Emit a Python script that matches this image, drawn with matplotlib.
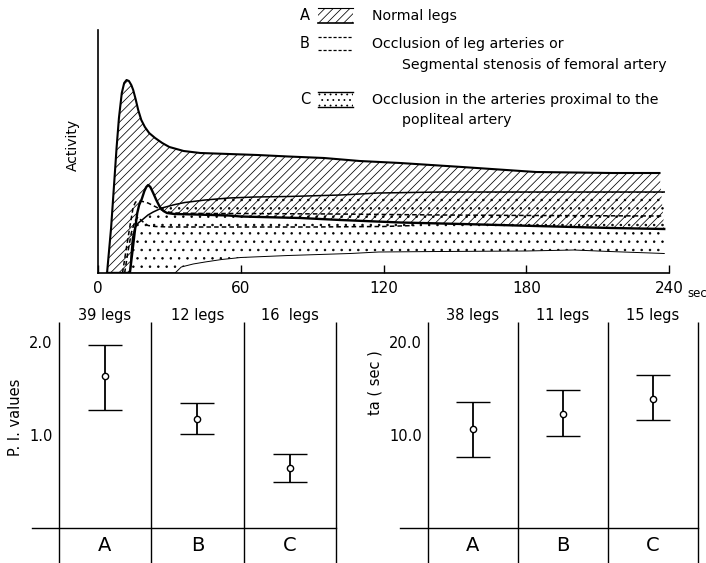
import numpy as np
import matplotlib
matplotlib.use("Agg")
import matplotlib.pyplot as plt
from matplotlib.patches import Rectangle

plt.rcParams['font.family'] = ['DejaVu Sans']
plt.rcParams['hatch.linewidth'] = 0.55

# ---------------- data: activity curves (time in sec, activity arbitrary units) ----------------
a_upper_t = [3.8, 5.5, 6.8, 7.8, 8.8, 10, 11, 12, 13, 14, 14.8, 15.8, 16.9, 18.2, 19.7, 21.5, 24, 27, 30,
             36, 43, 55, 67, 80, 95, 110, 127, 153, 184, 216, 236]
a_upper_v = [0, 45, 90, 125, 155, 180, 190, 193, 192, 188, 183, 174, 163, 153, 146, 140, 135, 130, 126,
             122, 120, 119, 118, 116.5, 115, 112, 110, 106, 101, 100, 100]

a_lower_t = [3.8, 13.4, 14.5, 15.5, 16.5, 17.3, 18.4, 19.5, 20.3, 21.1, 22, 23.2, 24.5, 26, 27.5, 29, 32,
             41, 55, 60, 85, 102, 127, 153, 184, 216, 238]
a_lower_v = [0, 0, 22, 42, 60, 68, 74, 82, 86, 88, 86, 80, 73, 66, 62, 60, 59,
             58.5, 57.5, 56.5, 55, 53, 50.5, 49, 47, 45, 44]

b_upper_t = [10.3, 12, 13.5, 14.8, 15.8, 18, 21, 24, 26.8, 29.5, 32.4, 45, 60, 100, 144, 184, 238]
b_upper_v = [0, 26, 48, 66, 71, 72, 70, 66.5, 63, 61, 60, 59.5, 59.5, 59, 58, 57.5, 57]

b_lower_t = [11.2, 12.5, 14, 15.5, 16.8, 18, 19.5, 21, 24, 30, 60, 90, 120, 133]
b_lower_v = [0, 20, 40, 52, 56, 53, 50, 47.5, 46.5, 46, 46, 46, 46.5, 47.5]

c_upper_t = [13.5, 14, 14.5, 15.5, 16.9, 19, 21, 23.2, 26.8, 32.4, 36.5, 45, 55, 66, 80, 102, 118, 144, 184, 238]
c_upper_v = [0, 20, 35, 45, 50, 54, 58, 61, 65, 68.5, 70.5, 73, 75, 76, 76.5, 78, 80, 81, 81, 81]

c_lower_t = [13.5, 32.4, 35, 40, 45, 52, 60, 80, 106, 118, 144, 180, 200, 215, 238]
c_lower_v = [0, 0, 6, 9, 11, 13.5, 15.5, 17.5, 19.5, 21, 21.5, 22, 23, 21.5, 19.5]

time_ticks = [0, 60, 120, 180, 240]

# ---------------- data: bottom panels ----------------
groups = ["A", "B", "C"]
pi_counts = ["39 legs", "12 legs", "16  legs"]
pi_mean = [1.63, 1.17, 0.65]
pi_high = [1.97, 1.34, 0.80]
pi_low = [1.27, 1.01, 0.50]
pi_ticks = [1.0, 2.0]

ta_counts = ["38 legs", "11 legs", "15 legs"]
ta_mean = [10.6, 12.3, 13.9]
ta_high = [13.6, 14.8, 16.4]
ta_low = [7.6, 9.9, 11.6]
ta_ticks = [10.0, 20.0]

legend_letters = ["A", "B", "C"]
legend_texts = [["Normal legs"],
                ["Occlusion of leg arteries or", "Segmental stenosis of femoral artery"],
                ["Occlusion in the arteries proximal to the", "popliteal artery"]]

# ---------------- figure ----------------
W, H = 706, 563
fig = plt.figure(figsize=(W / 100, H / 100), dpi=100)


def px_axes(x0, y0, x1, y1):
    """axes from pixel box (top-left origin)"""
    return fig.add_axes([x0 / W, 1 - y1 / H, (x1 - x0) / W, (y1 - y0) / H])


# ---- top panel ----
ax = px_axes(98, 30, 669, 273)
ax.set_xlim(0, 240)
ax.set_ylim(0, 243)
for s in ['top', 'right']:
    ax.spines[s].set_visible(False)
for s in ['left', 'bottom']:
    ax.spines[s].set_linewidth(1.2)

# normal band (hatched)
ax.fill(np.concatenate([a_upper_t, a_lower_t[::-1]]),
        np.concatenate([a_upper_v, a_lower_v[::-1]]),
        facecolor='none', edgecolor='black', linewidth=0, hatch='////')
# proximal occlusion band (stippled)
ax.fill(np.concatenate([c_upper_t, c_lower_t[::-1]]),
        np.concatenate([c_upper_v, c_lower_v[::-1]]),
        facecolor='none', edgecolor='black', linewidth=0, hatch='..')

ax.plot(a_upper_t, a_upper_v, color='black', lw=1.5)
ax.plot(a_lower_t, a_lower_v, color='black', lw=1.7)
ax.plot(c_upper_t, c_upper_v, color='black', lw=1.1)
ax.plot(c_lower_t, c_lower_v, color='black', lw=0.7)
ax.plot(b_upper_t, b_upper_v, color='black', lw=1.1, dashes=(3, 2))
ax.plot(b_lower_t, b_lower_v, color='black', lw=1.1, dashes=(3, 2))

ax.set_xticks(time_ticks)
ax.set_xticklabels([str(t) for t in time_ticks])
ax.tick_params(axis='x', direction='in', length=6, width=1, pad=6, labelsize=11)
ax.set_yticks([])
ax.set_ylabel("Activity", fontsize=10)
ax.yaxis.set_label_coords(-0.032, 0.527)
ax.annotate("sec", xy=(240, 0), xycoords='data', xytext=(18, -20),
            textcoords='offset pixels', fontsize=8.5, ha='left', va='center',
            annotation_clip=False)


# ---- bottom panels ----
def group_panel(box, xmin, ymax, scale_px, means, lows, highs, counts, ticks, ylabel):
    bx = px_axes(*box)
    bx.set_xlim(xmin, 3.0)
    bx.set_ylim(0, ymax)
    for s in ['top', 'right']:
        bx.spines[s].set_visible(False)
    bx.spines['left'].set_position(('data', 0))
    bx.spines['left'].set_visible(False)
    bx.spines['bottom'].set_linewidth(1.0)
    ybottom = -(H - box[3]) / scale_px
    bx.vlines([0, 1, 2, 3], ybottom, ymax, color='black', lw=1.0, clip_on=False)
    xs = np.arange(len(means)) + 0.5
    m = np.array(means)
    err = [m - np.array(lows), np.array(highs) - m]
    bx.errorbar(xs, m, yerr=err, fmt='o', ms=4.5, mfc='white', mec='black', mew=1.0,
                ecolor='black', elinewidth=1.3, capsize=12, capthick=1.3, color='black', zorder=3)
    bx.set_xticks(xs)
    bx.set_xticklabels(groups, fontsize=14)
    bx.tick_params(axis='x', length=0, pad=6)
    bx.set_yticks(ticks)
    bx.set_yticklabels(["{:.1f}".format(t) for t in ticks], fontsize=10.5)
    bx.tick_params(axis='y', length=0, pad=4.5)
    for x, c in zip(xs, counts):
        bx.annotate(c, xy=(x, 1.0), xycoords=('data', 'axes fraction'), xytext=(0, 1.5),
                    textcoords='offset points', ha='center', va='baseline', fontsize=10.5,
                    annotation_clip=False)
    bx.set_ylabel(ylabel, fontsize=10.5)
    return bx


bl = group_panel((32, 322, 336, 528), -0.29, 206 / 93, 93, pi_mean, pi_low, pi_high,
                 pi_counts, pi_ticks, "P. I. values")
bl.yaxis.set_label_coords(-0.03, 0.539)
br = group_panel((400, 322, 698, 528), -0.311, 206 / 9.3, 9.3, ta_mean, ta_low, ta_high,
                 ta_counts, ta_ticks, "ta ( sec )")
br.yaxis.set_label_coords(-0.06, 0.704)

# ---- legend (drawn in pixel space) ----
lax = fig.add_axes([0, 0, 1, 1])
lax.set_xlim(0, W)
lax.set_ylim(H, 0)
lax.axis('off')
lax.patch.set_alpha(0)

letter_y = [16, 44, 100]
text_y = [[16], [44, 65], [100, 120]]
for letter, ly in zip(legend_letters, letter_y):
    lax.text(305, ly, letter, ha='center', va='center', fontsize=10.5)
for lines, ys in zip(legend_texts, text_y):
    for i, (t, y) in enumerate(zip(lines, ys)):
        lax.text(372 if i == 0 else 402, y, t, ha='left', va='center', fontsize=10.2)

# A swatch
lax.add_patch(Rectangle((318, 8), 35, 15, facecolor='none', edgecolor='black', lw=0, hatch='////'))
lax.plot([318, 353], [8, 8], color='black', lw=0.8)
lax.plot([318, 353], [23, 23], color='black', lw=1.2)
# B swatch
lax.plot([318, 353], [37, 37], color='black', lw=0.9, dashes=(2.5, 1.5))
lax.plot([318, 353], [50, 50], color='black', lw=0.9, dashes=(2.5, 1.5))
# C swatch
lax.add_patch(Rectangle((318, 92), 35, 15, facecolor='none', edgecolor='black', lw=0, hatch='...'))
lax.plot([318, 353], [92, 92], color='black', lw=1.0)
lax.plot([318, 353], [107, 107], color='black', lw=1.0)

fig.savefig("out.png", dpi=100)
